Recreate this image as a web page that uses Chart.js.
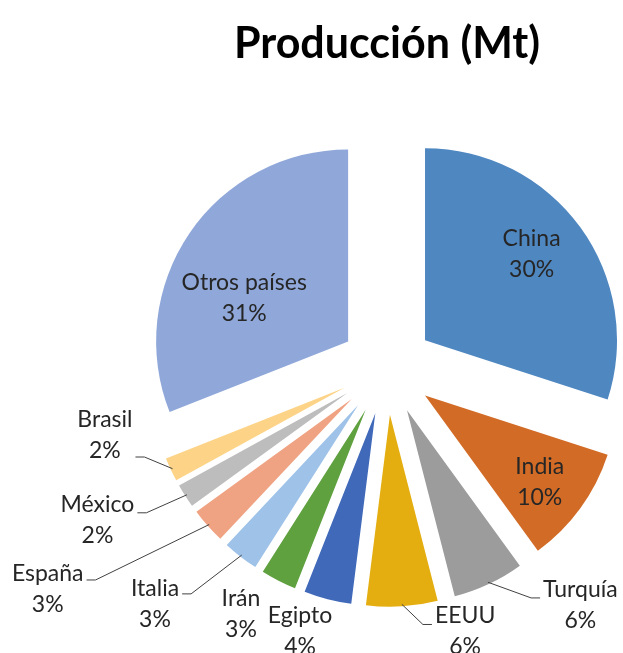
<!DOCTYPE html>
<html>
<head>
<meta charset="utf-8">
<script src="https://cdn.jsdelivr.net/npm/chart.js@4.4.1/dist/chart.umd.min.js"></script>
<style>
  html, body { margin: 0; padding: 0; background: #fff; }
  #wrap { width: 623px; height: 653px; }
</style>
</head>
<body>
<div id="wrap"><canvas id="pieChart"></canvas></div>
<script>
const countries = ['China', 'India', 'Turquía', 'EEUU', 'Egipto', 'Irán', 'Italia', 'España', 'México', 'Brasil', 'Otros países'];
const shares = [30, 10, 6, 6, 4, 3, 3, 3, 2, 2, 31];
const sliceColors = ['#4f87c1', '#d26b26', '#9c9c9c', '#e4ae10', '#4069b9', '#5fa03f',
                     '#9ec2e8', '#f0a383', '#bdbdbd', '#fdd487', '#8fa7d9'];

// where each label sits: a = degrees clockwise from 12 o'clock, d = px from pie centre
const labelPlacement = [
  { a: 51.8, d: 184 },
  { a: 126.9, d: 191 },
  { a: 140.8, d: 306, leader: true, ly: -7 },
  { a: 163.5, d: 275, leader: true, ly: -7 },
  { a: 198.3, d: 277 },
  { a: 210.7, d: 286 },
  { a: 224.5, d: 331, leader: true, ly: -10 },
  { a: 236.9, d: 405, leader: true, ly: -9 },
  { a: 242.3, d: 327, leader: true, ly: -7 },
  { a: 256.6, d: 290, leader: true, ly: 22 },
  { a: 296.1, d: 159 }
];

const labelFont = '23px Lato';
const lineGap = 31;

// chart.js "offset" shrinks and stretches small slices, so push every slice
// straight out instead, the way the exploded pie in the picture does it
const explode = 47;
const baseArcDraw = Chart.ArcElement.prototype.draw;
Chart.ArcElement.prototype.draw = function (ctx) {
  const mid = (this.startAngle + this.endAngle) / 2;
  ctx.save();
  ctx.translate(Math.cos(mid) * explode, Math.sin(mid) * explode);
  baseArcDraw.call(this, ctx);
  ctx.restore();
};

const pieLabels = {
  id: 'pieLabels',
  afterDatasetsDraw(chart) {
    const ctx = chart.ctx;
    const meta = chart.getDatasetMeta(0);
    const cx = (chart.chartArea.left + chart.chartArea.right) / 2;
    const cy = (chart.chartArea.top + chart.chartArea.bottom) / 2;
    ctx.save();
    ctx.font = labelFont;
    ctx.fillStyle = '#262626';
    ctx.textAlign = 'center';
    ctx.textBaseline = 'middle';
    meta.data.forEach((arc, i) => {
      const p = labelPlacement[i];
      const rad = p.a * Math.PI / 180;
      const tx = cx + p.d * Math.sin(rad);
      const ty = cy - p.d * Math.cos(rad);
      const lines = [countries[i], shares[i] + '%'];
      ctx.fillText(lines[0], tx, ty - lineGap / 2);
      ctx.fillText(lines[1], tx, ty + lineGap / 2);

      if (p.leader) {
        const { x, y, startAngle, endAngle, outerRadius } = arc.getProps(['x', 'y', 'startAngle', 'endAngle', 'outerRadius'], true);
        const mid = (startAngle + endAngle) / 2;
        const sx = x + Math.cos(mid) * (outerRadius + explode - 2);
        const sy = y + Math.sin(mid) * (outerRadius + explode - 2);
        const w = Math.max(...lines.map(t => ctx.measureText(t).width));
        const dir = tx > sx ? -1 : 1;
        const ex = tx + dir * (w / 2 + 3);
        const ey = ty + p.ly;
        ctx.beginPath();
        ctx.moveTo(sx, sy);
        ctx.lineTo(ex + dir * 9, ey);
        ctx.lineTo(ex, ey);
        ctx.strokeStyle = '#404040';
        ctx.lineWidth = 1;
        ctx.stroke();
      }
    });
    ctx.restore();
  }
};

new Chart(document.getElementById('pieChart'), {
  type: 'pie',
  data: {
    labels: countries,
    datasets: [{
      data: shares,
      backgroundColor: sliceColors,
      borderWidth: 0,
      radius: 192
    }]
  },
  options: {
    responsive: true,
    maintainAspectRatio: false,
    animation: false,
    layout: {
      padding: { left: 151, right: 0, top: 0, bottom: 17 }
    },
    plugins: {
      legend: { display: false },
      tooltip: { enabled: false },
      title: {
        display: true,
        text: 'Producción (Mt)',
        fullSize: false,
        color: '#000',
        font: { family: 'Lato', size: 43, weight: 'bold', lineHeight: 1.2 },
        padding: { top: 18, bottom: 30 }
      }
    }
  },
  plugins: [pieLabels]
});
</script>
</body>
</html>
